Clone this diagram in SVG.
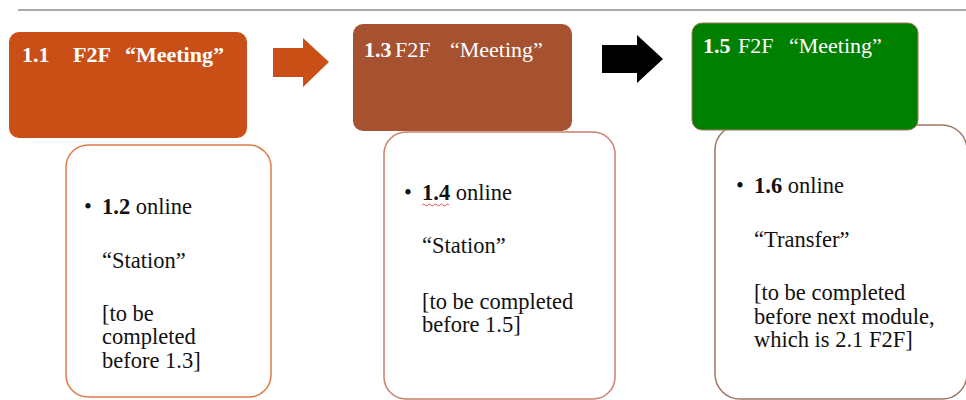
<svg xmlns="http://www.w3.org/2000/svg" width="966" height="400" viewBox="0 0 966 400">
<style>
text{font-family:'Liberation Serif','DejaVu Serif',serif}
.title{font-size:22px;fill:#ffffff}
.body{font-size:22.5px;fill:#111111}
.b{font-weight:bold}
.card{fill:#ffffff;stroke-width:1.5}
</style>
<rect width="966" height="400" fill="#ffffff"/>
<line x1="18" y1="10" x2="966" y2="10" stroke="#aaaaaa" stroke-width="2"/>

<g id="node-1-2">
<rect class="card" x="66" y="145" width="205" height="252" rx="22" stroke="#E07A48"/>
<text class="body" x="84" y="214">•</text>
<text class="body" x="102" y="214"><tspan class="b">1.2</tspan> online</text>
<text class="body" x="102" y="268">“Station”</text>
<text class="body"><tspan x="102" y="321">[to be</tspan><tspan x="102" y="344">completed</tspan><tspan x="102" y="367.5">before 1.3]</tspan></text>
</g>

<g id="node-1-4">
<rect class="card" x="384" y="132" width="231" height="267" rx="22" stroke="#C8826A"/>
<text class="body" x="404" y="200">•</text>
<text class="body" x="422" y="200"><tspan class="b">1.4</tspan> online</text>
<path d="M422,205 q1.5,-2 3,0 t3,0 t3,0 t3,0 t3,0 t3,0 t3,0 t3,0 t3,0" fill="none" stroke="#e03030" stroke-width="0.8"/>
<text class="body" x="422" y="253">“Station”</text>
<text class="body"><tspan x="422" y="309">[to be completed</tspan><tspan x="422" y="332">before 1.5]</tspan></text>
</g>

<g id="node-1-6">
<rect class="card" x="715" y="125" width="252" height="274" rx="25" stroke="#A07565"/>
<text class="body" x="736" y="193">•</text>
<text class="body" x="754" y="193"><tspan class="b">1.6</tspan> online</text>
<text class="body" x="754" y="247">“Transfer”</text>
<text class="body"><tspan x="754" y="300">[to be completed</tspan><tspan x="754" y="323.5">before next module,</tspan><tspan x="754" y="347">which is 2.1 F2F]</tspan></text>
</g>

<g id="node-1-1">
<rect x="9" y="32" width="238" height="106" rx="10" fill="#C94F17"/>
<text class="title b" y="62"><tspan x="22">1.1</tspan><tspan x="73">F2F</tspan><tspan x="125">“Meeting”</tspan></text>
</g>

<g id="node-1-3">
<rect x="353" y="24" width="219" height="107" rx="10" fill="#A65130"/>
<text class="title" y="57"><tspan x="364" class="b">1.3</tspan><tspan x="395">F2F</tspan><tspan x="450">“Meeting”</tspan></text>
</g>

<g id="node-1-5">
<rect x="692" y="23" width="226" height="107" rx="10" fill="#008000" stroke="#A0785A" stroke-width="1"/>
<text class="title" y="53"><tspan x="703" class="b">1.5</tspan><tspan x="738">F2F</tspan><tspan x="789">“Meeting”</tspan></text>
</g>

<g id="connectors">
<polygon points="273,48 303,48 303,38 329,62 303,87 303,77 273,77" fill="#C94F17"/>
<polygon points="602,45 637,45 637,35 663,59 637,83 637,73 602,73" fill="#000000"/>
</g>
</svg>
